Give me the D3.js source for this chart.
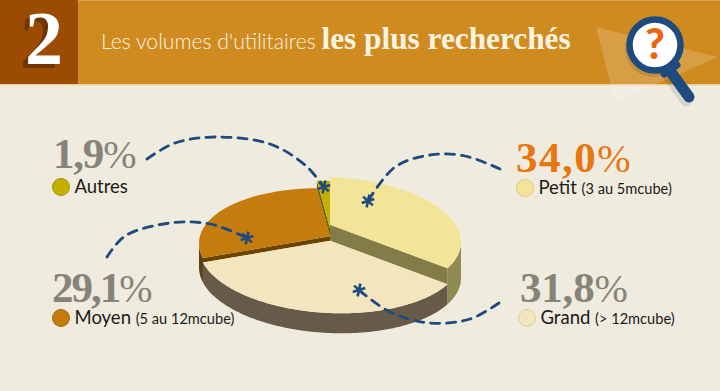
<!DOCTYPE html>
<html>
<head>
<meta charset="utf-8">
<script src="https://cdn.jsdelivr.net/npm/d3@7"></script>
<style>
  html, body { margin: 0; padding: 0; background: #efebdf; overflow: hidden; }
  svg { display: block; }
</style>
</head>
<body>
<svg id="chart" width="720" height="391"></svg>
<script>
// Chart values, clockwise from the top of the pie
var categories = ["Petit", "Grand", "Moyen", "Autres"];
var shares = [34.0, 31.8, 29.1, 1.9];
var shareLabels = ["34,0%", "31,8%", "29,1%", "1,9%"];
var sizeNotes = ["(3 au 5mcube)", "(> 12mcube)", "(5 au 12mcube)", ""];

// Slice styles
var topColors = ["#f3e597", "#f3e5bd", "#c47c0c", "#c4b000"];
var edgeColors = ["#837c49", "#675a48", "#6b4300", "#6e6400"];
var wallColors = ["#8f8a50", "#675a48", "#5e430f", "#6e6400"];
var dotBorders = ["#dccb7e", "#e0cf9f", "#a9690a", "#a89700"];
var labelColors = ["#e8760f", "#878378", "#878378", "#878378"];
var labelTracking = [1.5, -0.2, -2, -1.2];
var lifts = [16, 0, 4.5, 12];

// Legend positions [dot x, dot y, number x, number y]
var legendSpots = [
  [525, 188, 516, 172],
  [527, 318, 520, 302],
  [61, 318, 52, 302],
  [61, 187, 53, 168]
];

// Dashed leader lines
var leaders = [
  [[500, 169], [465, 156], [430, 155], [395, 167], [368, 201]],
  [[499, 303], [470, 319], [430, 323], [390, 312], [359, 290]],
  [[107, 257], [125, 236], [170, 223], [210, 224], [247, 238]],
  [[147, 159], [175, 143], [215, 137], [270, 144], [305, 165], [324, 187]]
];

var svg = d3.select("#chart");
var SERIF = "'Liberation Serif', serif";
var SANS = "Lato, sans-serif";

// ---- Header ----
svg.append("rect").attr("width", 720).attr("height", 391).attr("fill", "#efebdf");
svg.append("rect").attr("width", 720).attr("height", 84).attr("fill", "#cf8b20");
svg.append("rect").attr("width", 720).attr("height", 1).attr("fill", "#dca550");
svg.append("rect").attr("y", 84).attr("width", 720).attr("height", 1.5).attr("fill", "#e8cfa0");
svg.append("rect").attr("width", 78).attr("height", 84).attr("fill", "#9b4c00");

svg.append("polygon")
  .attr("points", "596,27 718,57 615,102")
  .attr("fill", "#fff").attr("opacity", 0.17);

svg.append("text").attr("x", 20).attr("y", 68)
  .attr("font-family", SERIF).attr("font-weight", "bold")
  .attr("font-size", 76).attr("fill", "#6e3600").text("2");
svg.append("text").attr("x", 25).attr("y", 64)
  .attr("font-family", SERIF).attr("font-weight", "bold")
  .attr("font-size", 76).attr("fill", "#fff").text("2");

var title = svg.append("text").attr("x", 101).attr("y", 49).attr("fill", "#fbf3e2");
title.append("tspan").attr("font-family", SANS).attr("font-weight", 300)
  .attr("font-size", 21.2).text("Les volumes d'utilitaires ");
title.append("tspan").attr("font-family", SERIF).attr("font-weight", "bold")
  .attr("font-size", 31.3).text("les plus recherchés");

// Magnifier
var lens = svg.append("g");
lens.append("line").attr("x1", 668).attr("y1", 68).attr("x2", 689).attr("y2", 98)
  .attr("stroke", "#000").attr("stroke-opacity", 0.1).attr("stroke-width", 11)
  .attr("stroke-linecap", "round").attr("transform", "translate(-3,3)");
lens.append("circle").attr("cx", 655).attr("cy", 45).attr("r", 28)
  .attr("fill", "#000").attr("fill-opacity", 0.1).attr("transform", "translate(-2,4)");
lens.append("line").attr("x1", 668).attr("y1", 68).attr("x2", 689).attr("y2", 97)
  .attr("stroke", "#1f4a80").attr("stroke-width", 11).attr("stroke-linecap", "round");
lens.append("line").attr("x1", 664).attr("y1", 74).attr("x2", 677).attr("y2", 65)
  .attr("stroke", "#1f4a80").attr("stroke-width", 7).attr("stroke-linecap", "round");
lens.append("circle").attr("cx", 655).attr("cy", 45).attr("r", 25.5)
  .attr("fill", "#fff").attr("stroke", "#1f4a80").attr("stroke-width", 6.5);
lens.append("text").attr("x", 655).attr("y", 59).attr("text-anchor", "middle")
  .attr("font-family", SANS).attr("font-weight", 900).attr("font-size", 42)
  .attr("fill", "#e8660f").text("?");

// ---- Pie ----
var cx = 330, cy = 240.7, discW = 128.2, discH = 57.5, persp = 0.205, depth = 20, tilt = 0.04;
// Only this part of the rim faces the viewer
var frontFrom = Math.PI - Math.acos(persp), frontTo = Math.PI + Math.acos(persp);

function rimPoint(a, lift) {
  var den = 1 + persp * Math.cos(a);
  var x = discW * Math.sin(a) / den;
  var y = -discH * Math.cos(a) / den;
  return [cx + x, cy + y + x * tilt - lift];
}
function rimArc(a0, a1, lift) {
  var n = Math.max(2, Math.ceil((a1 - a0) / 0.02));
  return d3.range(n + 1).map(function (i) { return rimPoint(a0 + (a1 - a0) * i / n, lift); });
}
var line = d3.line();
var pieGen = d3.pie().sort(null);
var slices = pieGen(shares);
var pieG = svg.append("g");

function levelBelow(i, j) {
  return lifts[j] < lifts[i] ? lifts[j] : null;
}
function edgeWall(a, i, other, color) {
  var low = levelBelow(i, other);
  if (low === null) return;
  var apexTop = [cx, cy - lifts[i]], apexLow = [cx, cy - low];
  pieG.append("path")
    .attr("d", line([apexTop, rimPoint(a, lifts[i]), rimPoint(a, low), apexLow]) + "Z")
    .attr("fill", color);
}

// Back slices first, the unlifted one last
[2, 3, 0, 1].forEach(function (i) {
  var s = slices[i];
  var n = categories.length;
  var wallFrom = Math.max(s.startAngle, frontFrom), wallTo = Math.min(s.endAngle, frontTo);
  if (wallTo > wallFrom) {
    var up = rimArc(wallFrom, wallTo, lifts[i]);
    var down = rimArc(wallFrom, wallTo, -depth).reverse();
    pieG.append("path").attr("d", line(up.concat(down)) + "Z").attr("fill", wallColors[i]);
  }
  edgeWall(s.startAngle, i, (i + n - 1) % n, edgeColors[i]);
  edgeWall(s.endAngle, i, (i + 1) % n, edgeColors[i]);
  var top = rimArc(s.startAngle, s.endAngle, lifts[i]);
  pieG.append("path").attr("d", line([[cx, cy - lifts[i]]].concat(top)) + "Z").attr("fill", topColors[i]);
});

// ---- Leaders ----
var curve = d3.line().curve(d3.curveCatmullRom.alpha(0.5));
var star = d3.symbol().type(d3.symbolAsterisk).size(120);
leaders.forEach(function (pts) {
  svg.append("path").attr("d", curve(pts)).attr("fill", "none")
    .attr("stroke", "#1f4a80").attr("stroke-width", 2.8)
    .attr("stroke-dasharray", "9,7").attr("stroke-linecap", "round");
  var end = pts[pts.length - 1];
  svg.append("path").attr("d", star()).attr("transform", "translate(" + end + ") rotate(12)")
    .attr("fill", "none").attr("stroke", "#1f4a80").attr("stroke-width", 2.6);
});

// ---- Legend ----
categories.forEach(function (name, i) {
  var spot = legendSpots[i];
  var pct = svg.append("text").attr("x", spot[2]).attr("y", spot[3])
    .attr("font-family", SERIF).attr("fill", labelColors[i]);
  pct.append("tspan").attr("font-weight", "bold").attr("font-size", 43).attr("letter-spacing", labelTracking[i])
    .text(shareLabels[i].replace("%", ""));
  pct.append("tspan").attr("font-size", 40).text("%");

  svg.append("circle").attr("cx", spot[0]).attr("cy", spot[1]).attr("r", 8.5)
    .attr("fill", topColors[i]).attr("stroke", dotBorders[i]).attr("stroke-width", 1);

  var lab = svg.append("text").attr("x", spot[0] + 13.5).attr("y", spot[1] + 6)
    .attr("font-family", SANS).attr("fill", "#1c1a17");
  lab.append("tspan").attr("font-size", 18.5).text(name + " ");
  lab.append("tspan").attr("font-size", 14.6).text(sizeNotes[i]);
});
</script>
</body>
</html>
